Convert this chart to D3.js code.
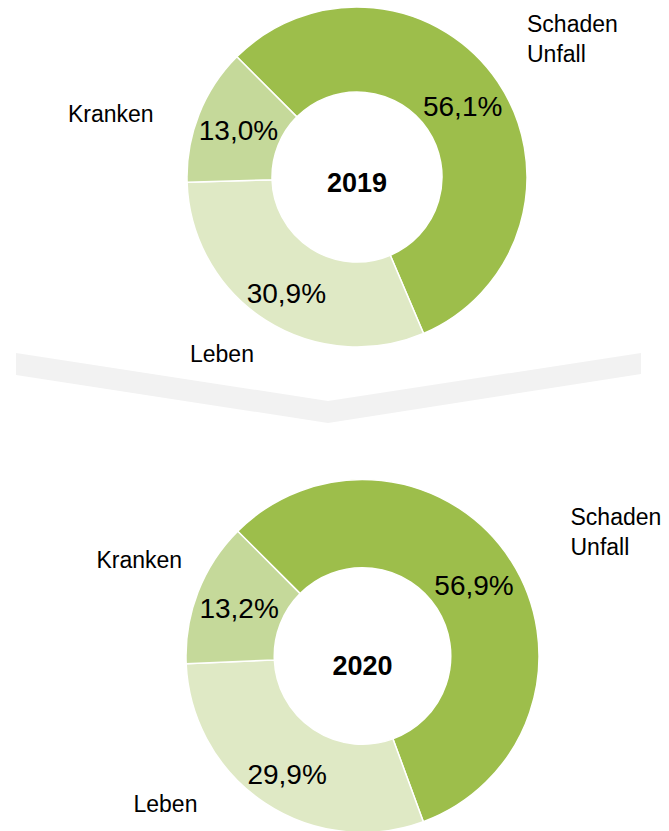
<!DOCTYPE html>
<html>
<head>
<meta charset="utf-8">
<script src="https://cdn.jsdelivr.net/npm/d3@7"></script>
<style>
    body { margin: 0; background: #fff; }
    svg { display: block; }
</style>
</head>
<body>
<svg id="chart" width="669" height="831" font-family="Liberation Sans, Arial, Helvetica, sans-serif"></svg>
<script>
// data
var categories = ["Schaden Unfall", "Leben", "Kranken"];
var years = ["2019", "2020"];
var values2019 = [56.1, 30.9, 13.0];
var values2020 = [56.9, 29.9, 13.2];
var sliceColors = ["#9dbe4b", "#dfe9c5", "#c5d99a"];

var svg = d3.select("#chart");

// grey chevron between the two donuts
svg.append("path")
    .attr("d", "M16,353 L328,401 L641,353 L641,374 L328,423 L16,375 Z")
    .attr("fill", "#f2f2f2");

// layout per donut: centre, radius and where the category names sit (relative to centre)
var layouts = [
    { cx: 357, cy: 177, r: 170, yearDy: 15,
      names: [{ dx: 170, dy: -145 }, { dx: -167, dy: 185 }, { dx: -289, dy: -55 }] },
    { cx: 362.5, cy: 656, r: 176.5, yearDy: 19,
      names: [{ dx: 208, dy: -131 }, { dx: -229, dy: 156 }, { dx: -266, dy: -88 }] }
];
// small nudge of the percentage labels (Leben sits a bit lower than the centroid)
var pctNudge = [[0, 0], [-2, 8], [0, 0]];

var pie = d3.pie()
    .sort(null)
    .startAngle(-Math.PI / 4)
    .endAngle(Math.PI * 7 / 4);

var fmt = function(v) { return v.toFixed(1).replace(".", ",") + "%"; };

var drawDonut = function(values, year, layout) {
    var g = svg.append("g")
        .attr("transform", "translate(" + layout.cx + "," + layout.cy + ")");

    var arc = d3.arc()
        .innerRadius(layout.r * 0.5)
        .outerRadius(layout.r);

    var arcs = pie(values);

    g.selectAll("path.slice")
        .data(arcs)
        .enter().append("path")
            .attr("class", "slice")
            .attr("d", arc)
            .attr("fill", function(d, i) { return sliceColors[i]; })
            .attr("stroke", "#fff")
            .attr("stroke-width", 1.5);

    g.selectAll("text.pct")
        .data(arcs)
        .enter().append("text")
            .attr("class", "pct")
            .attr("transform", function(d, i) {
                var c = arc.centroid(d);
                return "translate(" + (c[0] + pctNudge[i][0]) + "," + (c[1] + pctNudge[i][1]) + ")";
            })
            .attr("dy", "0.36em")
            .attr("text-anchor", "middle")
            .attr("font-size", 28)
            .attr("fill", "#000")
            .text(function(d) { return fmt(d.value); });

    g.append("text")
        .attr("x", 0)
        .attr("y", layout.yearDy)
        .attr("text-anchor", "middle")
        .attr("font-size", 27)
        .attr("font-weight", "bold")
        .text(year);

    // category names, "Schaden Unfall" on two lines
    categories.forEach(function(name, i) {
        var t = g.append("text")
            .attr("x", layout.names[i].dx)
            .attr("y", layout.names[i].dy)
            .attr("font-size", 23)
            .attr("fill", "#000");
        name.split(" ").forEach(function(word, j) {
            t.append("tspan")
                .attr("x", layout.names[i].dx)
                .attr("dy", j ? 30 : 0)
                .text(word);
        });
    });
};

drawDonut(values2019, years[0], layouts[0]);
drawDonut(values2020, years[1], layouts[1]);
</script>
</body>
</html>
